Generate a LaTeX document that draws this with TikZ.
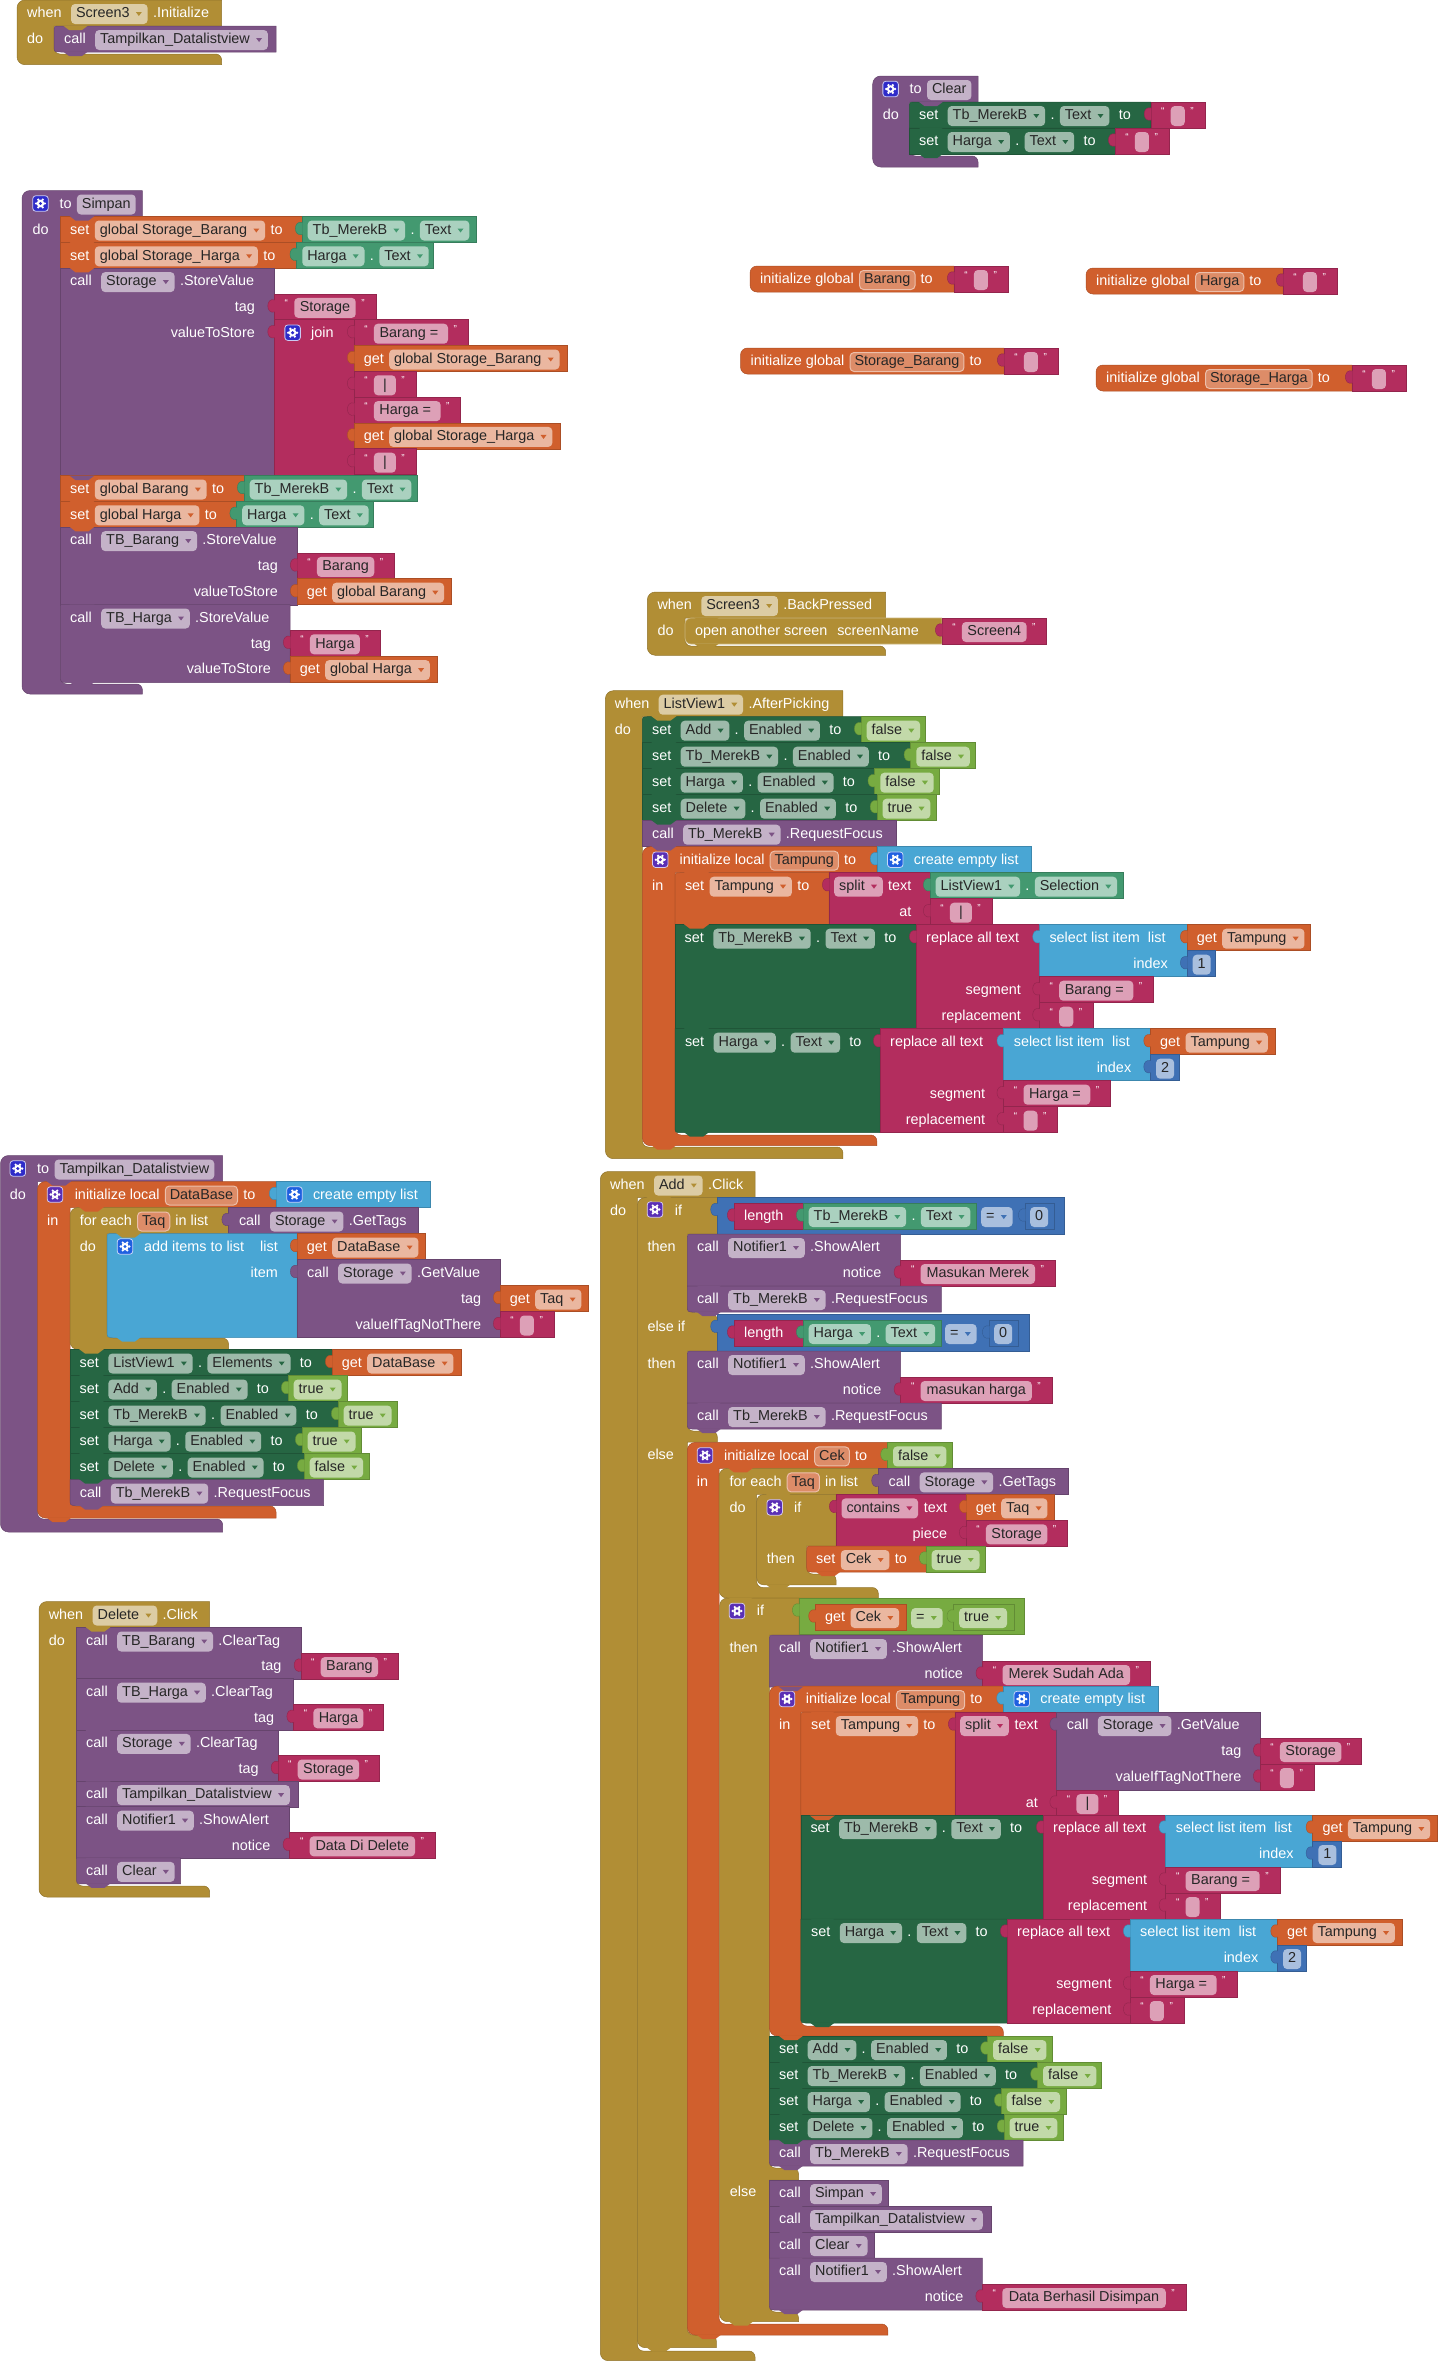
\documentclass[tikz,border=0pt]{standalone}
\usepackage{fontspec}
\setmainfont{Liberation Sans}
\usetikzlibrary{positioning}

\definecolor{gold}{HTML}{B18E35}
\definecolor{mauve}{HTML}{7C5385}
\definecolor{orange}{HTML}{D05F2D}
\definecolor{dkgreen}{HTML}{266643}
\definecolor{midgreen}{HTML}{439970}
\definecolor{magenta}{HTML}{B32D5E}
\definecolor{lgreen}{HTML}{77AB41}
\definecolor{sky}{HTML}{49A6D4}
\definecolor{navy}{HTML}{3F71B5}
\definecolor{gearblue}{HTML}{2E2BC9}
\definecolor{gearpurple}{HTML}{5A2FB5}
\definecolor{gearsky}{HTML}{1F5FE0}

\pgfdeclarelayer{tabs}
\pgfsetlayers{main,tabs}

\tikzset{
  blk/.style={fill=#1, draw=#1!82!black, line width=.5pt},
  lbl/.style={inner sep=0pt, text=white, text height=10.5pt, text depth=3pt},
  field/.style={fill=#1!45!white, text=black!85, inner xsep=5pt, inner ysep=3.25pt,
    text height=10.5pt, text depth=3pt, rounded corners=4pt},
  namefield/.style={fill=#1!72!white, draw=#1!40!white, line width=1pt, text=black!85, inner xsep=4.5pt,
    inner ysep=2.75pt, text height=10.5pt, text depth=3pt, rounded corners=4pt},
  quotemark/.style={inner sep=0pt, text=white, font=\fontsize{10}{10}\selectfont},
  gearbox/.style={fill=#1, draw=white!75!#1, line width=.8pt, rounded corners=3pt, minimum size=15.5pt, inner sep=0pt}
}

\newcommand{\spc}{\kern4pt}
\newlength{\strw}
\def\curcol{gold}

% start of a row of texts and fields
\newcommand{\go}[2]{\coordinate (last) at (#1-5,#2+14);}
\newcommand{\lb}[1]{\node[lbl, right=5pt of last] (last) {#1};}
\newcommand{\fd}[1]{\node[field=\curcol, right=5pt of last] (last) {#1\kern13pt};
  \fill[fill=\curcol] (last.east) ++(-12,-2) -- ++(6,0) -- ++(-3,4) -- cycle;}
\newcommand{\fn}[2][0pt]{\node[field=\curcol, right=5pt of last, minimum width=#1] (last) {#2};}
\newcommand{\fe}[1]{\node[namefield=\curcol, right=5pt of last] (last) {#1};}
\newcommand{\rl}[3]{\node[lbl, anchor=east] (rlab) at (#1,#2+14) {#3};}

\newcommand{\notch}[3]{\begin{pgfonlayer}{tabs}
  \path[fill=#1] (#2+9,#3-.5) -- (#2+15,#3+4) -- (#2+28,#3+4) -- (#2+34,#3-.5) -- cycle;
\end{pgfonlayer}}

% statement: top radius, bottom radius, colour, x, top, right, rows
\newcommand{\stmb}[7]{\def\curcol{#3}
  \path[blk=#3] (#4+#1,#5) -- (#6,#5) -- (#6,#5+26*#7) -- (#4+#2,#5+26*#7)
    .. controls (#4,#5+26*#7) .. (#4,#5+26*#7-#2) -- (#4,#5+#1) .. controls (#4,#5) .. (#4+#1,#5) -- cycle;
  \notch{#3}{#4}{#5+26*#7}}
\newcommand{\stm}[6][0]{\stmb{#1}{0}{#2}{#3}{#4}{#5}{#6}}
\newcommand{\stml}[6][0]{\stmb{#1}{7}{#2}{#3}{#4}{#5}{#6}}

% value: colour, x, top, right, rows
\newcommand{\val}[5]{\def\curcol{#1}
  \path[blk=#1] (#2,#3) rectangle (#4,#3+26*#5);
  \path[fill=#1, draw=#1!82!black, line width=.4pt] (#2+.5,#3+6) .. controls (#2-9,#3+3) and (#2-9,#3+21) .. (#2+.5,#3+18);}

% C shape: colour, left, top, head right, head bottom, arm right, slot top, slot bottom, slot right
\newcommand{\cblock}[9]{
  \path[blk=#1] (#4,#3) -- (#4,#5) -- (#6,#5) {[rounded corners=6pt] -- (#6,#7) -- (#9,#7)} -- (#9,#8)
    {[rounded corners=8pt] -- (#2,#8) -- (#2,#3) -- (#4,#3)};
  \notch{#1}{#6}{#5}}

\newcommand{\gr}[3]{\node[gearbox=#3] (gear) at (#1,#2) {};
  \foreach \a in {0,60,...,300} \fill[white] (#1,#2) ++(\a:4.4) circle (1.3);
  \fill[white] (#1,#2) circle (3.8);
  \fill[#3] (#1,#2) circle (1.7);}

\newcommand{\strb}[3]{\pgfinterruptpicture\global\setbox1=\hbox{\fontsize{14.4}{16}\selectfont #3}\endpgfinterruptpicture
  \strw=\wd1
  \pgfmathsetmacro{\sx}{#1+1.02*\strw+50}
  \pgfmathsetmacro{\sw}{1.02*\strw+10}
  \val{magenta}{#1}{#2}{\sx}{1}
  \node[quotemark] (qa) at (#1+12,#2+9) {“};
  \go{#1+19.7}{#2}\fn[\sw pt]{#3}
  \node[quotemark] (qb) at ([xshift=7pt,yshift=5pt]last.east) {”};}

\newcommand{\get}[4]{\val{orange}{#1}{#2}{#3}{1}\go{#1+9.6}{#2}\lb{get}\fd{#4}}
\newcommand{\cmp}[5]{\val{midgreen}{#1}{#2}{#3}{1}\go{#1+5.5}{#2}\fd{#4}\lb{.}\fd{#5}}
\newcommand{\logic}[4]{\val{lgreen}{#1}{#2}{#3}{1}\go{#1+5.5}{#2}\fd{#4}}
\newcommand{\setg}[4]{\stm{orange}{#1}{#2}{#3}{1}\go{#1+9.5}{#2}\lb{set}\fd{#4}\lb{to}}
\newcommand{\setc}[7][0]{\stm[#1]{dkgreen}{#2}{#3}{#4}{#5}\go{#2+9.5}{#3}\lb{set\spc}\fd{#6}\lb{.}\fd{#7}\lb{\spc to}}
\newcommand{\callfn}[5]{\stm{mauve}{#1}{#2}{#3}{#4}\go{#1+9.5}{#2}\lb{call\spc}\fd{#5}}
\newcommand{\ini}[4]{\def\curcol{orange}
  \path[blk=orange] (#3,#2) -- (#3,#2+26) {[rounded corners=7pt] -- (#1,#2+26) -- (#1,#2) -- (#3,#2)};
  \go{#1+10}{#2}\lb{initialize global}\fe{#4}\lb{to}\strb{#3}{#2}{\spc}}
\newcommand{\listb}[3]{\val{sky}{#1}{#2}{#3}{1}\gr{#1+18.5}{#2+13}{gearsky}\go{#1+36.8}{#2}\lb{create empty list}}
% replace block: x, top, right, select right, get right, number right, number, segment
\newcommand{\repl}[8]{\val{magenta}{#1}{#2}{#3}{4}\go{#1+10}{#2}\lb{replace all text}
  \rl{#3-18.3}{#2+52}{segment}\rl{#3-18.3}{#2+78}{replacement}
  \val{sky}{#3}{#2}{#4}{2}\go{#3+10}{#2}\lb{select list item\kern8pt list}\rl{#4-19}{#2+26}{index}
  \get{#4}{#2}{#5}{Tampung}
  \val{navy}{#4}{#2+26}{#6}{1}\go{#4+5.5}{#2+26}\fn{#7}
  \strb{#3}{#2+52}{#8}\strb{#3}{#2+78}{\spc}}

\begin{document}
\begin{tikzpicture}[x=1pt, y=-1pt, font=\fontsize{14.4}{16}\selectfont]
  \useasboundingbox (0,0) rectangle (1438,2361);

  % Screen3 Initialize
  \cblock{gold}{17}{0}{221.6}{26}{54}{54}{64.7}{221.6}
  \def\curcol{gold}
  \go{27}{0}\lb{when\spc}\fd{Screen3}\lb{.Initialize}
  \go{27}{26}\lb{do}
  \stml[6]{mauve}{54}{26}{276}{1}\go{64}{26}\lb{call\spc}\fd{Tampilkan\_Datalistview}

  % Clear
  \cblock{mauve}{872.7}{76}{978}{102}{909.4}{156}{167}{978}
  \def\curcol{mauve}
  \gr{890.6}{89}{gearblue}\go{909.4}{76}\lb{to}\fn{Clear}
  \go{882.6}{102}\lb{do}
  \setc[6]{909.4}{102}{1150.8}{1}{Tb\_MerekB}{Text}\strb{1150.8}{102}{\spc}
  \setc{909.4}{128}{1115}{1}{Harga}{Text}\strb{1115}{128}{\spc}

  % globals
  \ini{750}{266}{954}{Barang}
  \ini{1086}{268}{1283}{Harga}
  \ini{740.5}{348}{1004}{Storage\_Barang}
  \ini{1096}{365}{1352}{Storage\_Harga}

  % Simpan
  \cblock{mauve}{22}{190.5}{142.4}{216.5}{60.5}{684}{694}{142.4}
  \def\curcol{mauve}
  \gr{40.5}{203.5}{gearblue}\go{59.3}{190.5}\lb{to}\fn{Simpan}
  \go{32.5}{216.5}\lb{do}
  \setg{60.5}{216.5}{302}{global Storage\_Barang}\cmp{302}{216.5}{476.5}{Tb\_MerekB}{Text}
  \setg{60.5}{242.3}{296.6}{global Storage\_Harga}\cmp{296.6}{242.3}{433.5}{Harga}{Text}
  \callfn{60.5}{268.1}{274.4}{8}{Storage}\lb{.StoreValue}
  \rl{255}{293.9}{tag}\rl{255}{319.7}{valueToStore}
  \strb{274.4}{293.9}{Storage}
  \val{magenta}{274.4}{319.7}{354}{6}
  \gr{292.6}{332.7}{gearblue}\go{311}{319.7}\lb{join}
  \strb{354}{319.7}{Barang =\spc}
  \get{354}{345.5}{567}{global Storage\_Barang}
  \strb{354}{371.3}{\spc|\spc}
  \strb{354}{397.1}{Harga =\spc}
  \get{354}{422.9}{560}{global Storage\_Harga}
  \strb{354}{448.7}{\spc|\spc}
  \setg{60.5}{475.5}{244}{global Barang}\cmp{244}{475.5}{417}{Tb\_MerekB}{Text}
  \setg{60.5}{501.3}{236.5}{global Harga}\cmp{236.5}{501.3}{373}{Harga}{Text}
  \callfn{60.5}{527.1}{297}{3}{TB\_Barang}\lb{.StoreValue}
  \rl{278}{552.9}{tag}\rl{278}{578.7}{valueToStore}
  \strb{297}{552.9}{Barang}\get{297}{578.7}{451.6}{global Barang}
  \stml{mauve}{60.5}{604.5}{290}{3}\go{70}{604.5}\lb{call\spc}\fd{TB\_Harga}\lb{.StoreValue}
  \rl{271}{630.3}{tag}\rl{271}{656.1}{valueToStore}
  \strb{290}{630.3}{Harga}\get{290}{656.1}{437}{global Harga}

  % BackPressed
  \cblock{gold}{647.3}{592}{885.7}{618}{685}{646}{655.3}{885.7}
  \def\curcol{gold}
  \go{657.3}{592}\lb{when\spc}\fd{Screen3}\lb{.BackPressed}
  \go{657.3}{618}\lb{do}
  \path[fill=gold, draw=gold!65!white, line width=.7pt] (942,618) -- (942,644) {[rounded corners=6pt] -- (685,644) -- (685,618) -- (942,618)};
  \go{695}{618}\lb{open another screen\kern10pt screenName}
  \notch{gold}{685}{644}
  \strb{942}{618}{Screen4}

  % ListView1 AfterPicking
  \cblock{gold}{605.4}{690.7}{842.9}{716.7}{642.4}{1147}{1158.7}{842.9}
  \def\curcol{gold}
  \go{614.7}{690.7}\lb{when\spc}\fd{ListView1}\lb{.AfterPicking}
  \go{614.7}{716.7}\lb{do}
  \setc[6]{642.4}{716.7}{861}{1}{Add}{Enabled}\logic{861}{716.7}{925.4}{false}
  \setc{642.4}{742.7}{910.7}{1}{Tb\_MerekB}{Enabled}\logic{910.7}{742.7}{975}{false}
  \setc{642.4}{768.7}{874.6}{1}{Harga}{Enabled}\logic{874.6}{768.7}{939.7}{false}
  \setc{642.4}{794.7}{876.8}{1}{Delete}{Enabled}\logic{876.8}{794.7}{936}{true}
  \callfn{642.4}{820.7}{896.4}{1}{Tb\_MerekB}\lb{.RequestFocus}
  \cblock{orange}{642.4}{846.7}{876.8}{872.7}{675}{1135}{1145.7}{876.8}
  \def\curcol{orange}
  \notch{orange}{642.4}{1145.7}
  \gr{660.3}{859.7}{gearpurple}\go{679.5}{846.7}\lb{initialize local}\fe{Tampung}\lb{to}
  \go{652}{872.7}\lb{in}
  \listb{876.8}{846.7}{1031.7}
  \stm[6]{orange}{675}{872.7}{829}{2}\go{684.8}{872.7}\lb{set}\fd{Tampung}\lb{to}
  \val{magenta}{829}{872.7}{930}{2}\go{834}{872.7}\fd{split}
  \rl{911.5}{872.7}{text}\rl{911.5}{898.7}{at}
  \cmp{930}{872.7}{1123.7}{ListView1}{Selection}
  \strb{930}{898.7}{\spc|\spc}
  \setc{675}{924.7}{916}{4}{Tb\_MerekB}{Text}
  \repl{916}{924.7}{1039.3}{1187}{1310}{1215.6}{1}{Barang =\spc}
  \stml{dkgreen}{675}{1028.7}{880}{4}\go{684.8}{1028.7}\lb{set\spc}\fd{Harga}\lb{.}\fd{Text}\lb{\spc to}
  \repl{880}{1028.7}{1003.6}{1150.4}{1275}{1179.5}{2}{Harga =\spc}

  % Tampilkan_Datalistview
  \cblock{mauve}{0.5}{1155.5}{222.7}{1181.5}{37.5}{1519}{1532}{222.7}
  \def\curcol{mauve}
  \gr{17.8}{1168.5}{gearblue}\go{37}{1155.5}\lb{to}\fn{Tampilkan\_Datalistview}
  \go{9.6}{1181.5}\lb{do}
  \cblock{orange}{37.5}{1181.5}{276}{1207.5}{70}{1506}{1518}{276}
  \def\curcol{orange}
  \notch{orange}{37.5}{1518}
  \gr{55}{1194.5}{gearpurple}\go{74.6}{1181.5}\lb{initialize local}\fe{DataBase}\lb{to}
  \go{47}{1207.5}\lb{in}
  \listb{276}{1181.5}{430.5}
  \cblock{gold}{70}{1207.5}{228.5}{1233.5}{107}{1338}{1349.5}{228.5}
  \def\curcol{gold}
  \notch{gold}{70}{1349.5}
  \go{79.6}{1207.5}\lb{for each}
  \def\curcol{orange}\fe{Taq}\lb{in list}
  \go{79.6}{1233.5}\lb{do}
  \val{mauve}{228.5}{1207.5}{418.7}{1}\go{238.8}{1207.5}\lb{call\spc}\fd{Storage}\lb{.GetTags}
  \stml[6]{sky}{107}{1233.5}{297}{4}
  \gr{125}{1246.5}{gearsky}\go{143.9}{1233.5}\lb{add items to list}
  \rl{278}{1233.5}{list}\rl{278}{1259.5}{item}
  \get{297}{1233.5}{425.6}{DataBase}
  \val{mauve}{297}{1259.5}{500}{3}\go{307}{1259.5}\lb{call\spc}\fd{Storage}\lb{.GetValue}
  \rl{481.4}{1285.5}{tag}\rl{481.4}{1311.5}{valueIfTagNotThere}
  \get{500}{1285.5}{588}{Taq}
  \strb{500}{1311.5}{\spc}
  \setc{70}{1349.5}{332}{1}{ListView1}{Elements}\get{332}{1349.5}{460.8}{DataBase}
  \setc{70}{1375.5}{288}{1}{Add}{Enabled}\logic{288}{1375.5}{347}{true}
  \setc{70}{1401.5}{338}{1}{Tb\_MerekB}{Enabled}\logic{338}{1401.5}{397}{true}
  \setc{70}{1427.5}{302}{1}{Harga}{Enabled}\logic{302}{1427.5}{361}{true}
  \setc{70}{1453.5}{304}{1}{Delete}{Enabled}\logic{304}{1453.5}{369}{false}
  \stml{mauve}{70}{1479.5}{323.7}{1}\go{79.6}{1479.5}\lb{call\spc}\fd{Tb\_MerekB}\lb{.RequestFocus}

  % Delete Click
  \cblock{gold}{39}{1601.5}{209.7}{1627.5}{76.5}{1886}{1897}{209.7}
  \def\curcol{gold}
  \go{48.6}{1601.5}\lb{when\spc}\fd{Delete}\lb{.Click}
  \go{48.6}{1627.5}\lb{do}
  \callfn{76.5}{1627.5}{300.8}{2}{TB\_Barang}\lb{.ClearTag}\rl{281.7}{1653.1}{tag}\strb{300.8}{1653.1}{Barang}
  \callfn{76.5}{1678.7}{293.5}{2}{TB\_Harga}\lb{.ClearTag}\rl{274.4}{1704.3}{tag}\strb{293.5}{1704.3}{Harga}
  \callfn{76.5}{1729.9}{277.8}{2}{Storage}\lb{.ClearTag}\rl{258.8}{1755.5}{tag}\strb{277.8}{1755.5}{Storage}
  \callfn{76.5}{1781.1}{298}{1}{Tampilkan\_Datalistview}
  \callfn{76.5}{1806.7}{289.7}{2}{Notifier1}\lb{.ShowAlert}\rl{270.6}{1832.3}{notice}\strb{289.7}{1832.3}{Data Di Delete}
  \stml{mauve}{76.5}{1857.9}{180.6}{1}\go{86}{1857.9}\lb{call\spc}\fd{Clear}

  % Add Click
  \cblock{gold}{600.3}{1171.5}{755}{1197.5}{637.3}{2351}{2360.7}{755}
  \def\curcol{gold}
  \go{610}{1171.5}\lb{when\spc}\fd{Add}\lb{.Click}
  \go{610}{1197.5}\lb{do}
  \path[blk=gold] (717.3,1197.5) -- (717.3,1234) -- (687.3,1234) {[rounded corners=6pt] -- (687.3,1312) -- (717.3,1314)}
    -- (717.3,1351) -- (687.3,1351) {[rounded corners=6pt] -- (687.3,1431) -- (717.3,1431)} -- (717.3,1442) -- (687.3,1442)
    {[rounded corners=6pt] -- (687.3,2335) -- (716.3,2335)} -- (716.3,2347.7)
    {[rounded corners=8pt] -- (637.3,2347.7) -- (637.3,1197.5) -- (717.3,1197.5)};
  \notch{gold}{637.3}{2347.7}
  \gr{655}{1209.5}{gearpurple}
  \go{674.7}{1197.5}\lb{if}
  \go{647.3}{1234}\lb{then}
  \go{647.3}{1314}\lb{else if}
  \go{647.3}{1351}\lb{then}
  \go{647.3}{1442}\lb{else}
  % first test
  \val{navy}{717.3}{1197.5}{1064.7}{1.41}
  \val{magenta}{734}{1203}{803}{1}\go{744}{1203}\lb{length}
  \cmp{803}{1203}{976.7}{Tb\_MerekB}{Text}
  \def\curcol{navy}\go{981}{1203}\fd{=}
  \val{navy}{1025}{1203}{1054.7}{1}\go{1030}{1203}\fn{0}
  \stm[6]{mauve}{687.3}{1234}{900.7}{2}\go{697}{1234}\lb{call\spc}\fd{Notifier1}\lb{.ShowAlert}
  \rl{881.5}{1260}{notice}\strb{900.7}{1260}{Masukan Merek}
  \stml{mauve}{687.3}{1286}{941.3}{1}\go{697}{1286}\lb{call\spc}\fd{Tb\_MerekB}\lb{.RequestFocus}
  % second test
  \val{navy}{717.3}{1314.3}{1029.3}{1.41}
  \val{magenta}{734}{1320}{803}{1}\go{744}{1320}\lb{length}
  \cmp{803}{1320}{941.3}{Harga}{Text}
  \def\curcol{navy}\go{945}{1320}\fd{=}
  \val{navy}{989}{1320}{1018.7}{1}\go{994}{1320}\fn{0}
  \stm[6]{mauve}{687.3}{1351}{900.7}{2}\go{697}{1351}\lb{call\spc}\fd{Notifier1}\lb{.ShowAlert}
  \rl{881.5}{1377}{notice}\strb{900.7}{1377}{masukan harga}
  \stml{mauve}{687.3}{1403}{941.3}{1}\go{697}{1403}\lb{call\spc}\fd{Tb\_MerekB}\lb{.RequestFocus}
  % else part
  \cblock{orange}{687.3}{1442.4}{887.3}{1468.4}{719}{2324}{2335}{887.8}
  \def\curcol{orange}
  \notch{orange}{687.3}{2335}
  \gr{705}{1455.4}{gearpurple}\go{724}{1442.4}\lb{initialize local}\fe{Cek}\lb{to}
  \logic{887.3}{1442.4}{952.3}{false}
  \go{696.7}{1468.4}\lb{in}
  \cblock{gold}{719}{1468.4}{878.3}{1494.4}{756.7}{1587.5}{1598}{878.3}
  \notch{gold}{719}{1598}
  \def\curcol{gold}
  \go{729.3}{1468.4}\lb{for each}
  \def\curcol{orange}\fe{Taq}\lb{in list}
  \go{729.3}{1494.4}\lb{do}
  \val{mauve}{878.3}{1468.4}{1068.7}{1}\go{888.5}{1468.4}\lb{call\spc}\fd{Storage}\lb{.GetTags}
  \path[blk=gold] (836,1494.4) -- (836,1546) -- (806.7,1546) {[rounded corners=6pt] -- (806.7,1574) -- (836,1574)} -- (836,1584.8)
    {[rounded corners=7pt] -- (756.7,1584.8) -- (756.7,1494.4) -- (836,1494.4)};
  \notch{gold}{756.7}{1584.8}
  \gr{774.7}{1507.4}{gearpurple}\go{794}{1494.4}\lb{if}
  \go{766.7}{1546}\lb{then}
  \val{magenta}{836}{1494.4}{966}{2}\go{841.3}{1494.4}\fd{contains}
  \rl{947.3}{1494.4}{text}\rl{947.3}{1520.4}{piece}
  \get{966}{1494.4}{1054}{Taq}\strb{966}{1520.4}{Storage}
  \stml[6]{orange}{806.7}{1546}{926}{1}\go{816}{1546}\lb{set}\fd{Cek}\lb{to}
  \logic{926}{1546}{985}{true}
  % if Cek
  \path[blk=gold] (799,1598) -- (799,1635) -- (769.4,1635) {[rounded corners=6pt] -- (769.4,2168) -- (798.5,2168)} -- (798.5,2180)
    -- (769.4,2180) {[rounded corners=6pt] -- (769.4,2312) -- (798.5,2312)} -- (798.5,2321.7)
    {[rounded corners=8pt] -- (719.5,2321.7) -- (719.5,1598)} -- (799,1598) -- cycle;
  \notch{gold}{719.5}{2321.7}
  \gr{737}{1611}{gearpurple}\go{756.7}{1598}\lb{if}
  \go{729.3}{1635}\lb{then}
  \go{729.7}{2178.7}\lb{else}
  \val{lgreen}{799}{1598}{1024.6}{1.41}
  \get{815.3}{1604}{906.2}{Cek}
  \def\curcol{lgreen}\go{911}{1604}\fd{=}
  \val{lgreen}{953.6}{1604}{1014.5}{1}\go{959}{1604}\fd{true}
  \stm[6]{mauve}{769.4}{1635}{982.6}{2}\go{779}{1635}\lb{call\spc}\fd{Notifier1}\lb{.ShowAlert}
  \rl{963.2}{1661}{notice}\strb{982.6}{1661}{Merek Sudah Ada}
  \cblock{orange}{769.4}{1686}{1003.3}{1712}{800.8}{2026}{2036}{1003.3}
  \def\curcol{orange}
  \notch{orange}{769.4}{2036}
  \gr{787}{1699}{gearpurple}\go{805.7}{1686}\lb{initialize local}\fe{Tampung}\lb{to}
  \go{779}{1712}\lb{in}
  \listb{1003.3}{1686}{1158.5}
  \stm[6]{orange}{800.8}{1712}{955}{4}\go{811}{1712}\lb{set}\fd{Tampung}\lb{to}
  \val{magenta}{955}{1712}{1056.5}{4}\go{960}{1712}\fd{split}
  \rl{1038.1}{1712}{text}\rl{1038.1}{1790}{at}
  \val{mauve}{1056.5}{1712}{1260}{3}\go{1066.7}{1712}\lb{call\spc}\fd{Storage}\lb{.GetValue}
  \rl{1241.6}{1738}{tag}\rl{1241.6}{1764}{valueIfTagNotThere}
  \strb{1260}{1738}{Storage}\strb{1260}{1764}{\spc}\strb{1056.5}{1790}{\spc|\spc}
  \setc{800.8}{1815}{1043}{4}{Tb\_MerekB}{Text}
  \repl{1043}{1815}{1165.7}{1312.7}{1437.4}{1341.7}{1}{Barang =\spc}
  \stml{dkgreen}{800.8}{1919}{1007}{4}\go{811}{1919}\lb{set\spc}\fd{Harga}\lb{.}\fd{Text}\lb{\spc to}
  \repl{1007}{1919}{1130}{1277.4}{1402}{1306.4}{2}{Harga =\spc}
  \setc{769.4}{2036}{987.3}{1}{Add}{Enabled}\logic{987.3}{2036}{1052}{false}
  \setc{769.4}{2062}{1037.3}{1}{Tb\_MerekB}{Enabled}\logic{1037.3}{2062}{1101.6}{false}
  \setc{769.4}{2088}{1001}{1}{Harga}{Enabled}\logic{1001}{2088}{1066}{false}
  \setc{769.4}{2114}{1003.8}{1}{Delete}{Enabled}\logic{1003.8}{2114}{1062.8}{true}
  \stml{mauve}{769.4}{2140}{1023}{1}\go{779}{2140}\lb{call\spc}\fd{Tb\_MerekB}\lb{.RequestFocus}
  \callfn{769.4}{2180}{888.2}{1}{Simpan}
  \callfn{769.4}{2206}{991}{1}{Tampilkan\_Datalistview}
  \callfn{769.4}{2232}{874}{1}{Clear}
  \stml{mauve}{769.4}{2258}{982.4}{2}\go{779}{2258}\lb{call\spc}\fd{Notifier1}\lb{.ShowAlert}
  \rl{963.5}{2284}{notice}\strb{982.4}{2284}{Data Berhasil Disimpan}
\end{tikzpicture}
\end{document}
